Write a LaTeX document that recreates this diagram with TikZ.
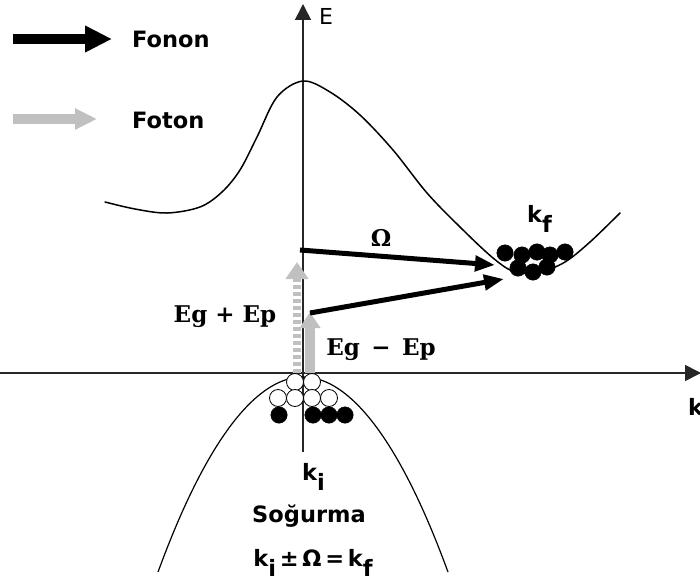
\documentclass[tikz,border=0pt]{standalone}
\usepackage[no-math]{fontspec}
\newfontfamily\dvs{DejaVu Sans}
\newfontfamily\dvserif{DejaVu Serif}
\usetikzlibrary{arrows.meta}
\definecolor{photon}{RGB}{192,192,192}
\begin{document}
\begin{tikzpicture}[x=1pt,y=-1pt,
  sanslbl/.style={font=\dvs\bfseries\fontsize{22.5}{26}\selectfont, inner sep=0pt},
  seriflbl/.style={font=\dvserif\bfseries\fontsize{23}{27}\selectfont, inner sep=0pt},
  omlbl/.style={font=\dvserif\bfseries\fontsize{23}{27}\selectfont, inner sep=0pt},
  band/.style={line width=1.5pt, line cap=round},
  axisline/.style={line width=1.6pt, draw=black!85, -{Triangle[length=16pt,width=16pt]}},
  phonon/.style={line width=5pt, -{Triangle[length=20pt,width=15pt]}},
  electron/.style={circle, fill=black, draw=black, minimum size=16.5pt, inner sep=0pt},
  hole/.style={circle, fill=white, draw=black, line width=0.8pt, minimum size=17pt, inner sep=0pt}]
\useasboundingbox (0,0) rectangle (700,583);

% legend
\coordinate (l1a) at (13,39);  \coordinate (l1b) at (112,39);
\coordinate (l2a) at (13,119); \coordinate (l2b) at (97,119);
\draw[line width=10pt, -{Triangle[length=27pt,width=25pt]}] (l1a) -- (l1b);
\draw[line width=10pt, photon, -{Triangle[length=22pt,width=20pt]}] (l2a) -- (l2b);
\node[sanslbl, anchor=base west] (fonon) at (132,48) {Fonon};
\node[sanslbl, anchor=base west] (foton) at (132,128) {Foton};

% axes
\coordinate (ybot) at (303,452); \coordinate (ytop) at (303,4);
\coordinate (xl) at (0,373); \coordinate (xr) at (701,373);
\draw[axisline] (ybot) -- (ytop);
\draw[axisline] (xl) -- (xr);
\node[font=\dvs\fontsize{22}{26}\selectfont, inner sep=0pt, anchor=base west] (E) at (319,25) {E};
\node[sanslbl, anchor=base west] (k) at (688,415) {k};

% conduction band
\draw[band] plot[smooth, tension=0.55] coordinates {(105,202) (135,209) (167,213) (200,207) (222,192) (240,170) (257,137) (277,97) (303,81) (330,92) (360,115) (393,150) (427,193) (460,227) (493,258) (515,272) (540,272) (565,262) (590,242) (620,213)};

% valence band
\draw[line width=1.2pt] (158,572) parabola bend (303,377) (448,572);

% photon arrows
\coordinate (p1a) at (297,373); \coordinate (p1b) at (297,262);
\coordinate (p2a) at (310,373); \coordinate (p2b) at (310,312);
\draw[photon, line width=8pt, dash pattern=on 4pt off 3pt, -{Triangle[length=17pt,width=22pt]}] (p1a) -- (p1b);
\draw[photon, line width=10pt, -{Triangle[length=16pt,width=20pt]}] (p2a) -- (p2b);

% phonon arrows
\coordinate (f1a) at (300,250); \coordinate (f1b) at (495,265);
\coordinate (f2a) at (310,313); \coordinate (f2b) at (504,279);
\draw[phonon] (f1a) -- (f1b);
\draw[phonon] (f2a) -- (f2b);

% labels
\node[omlbl, anchor=base] (om) at (381,246) {Ω};
\node[seriflbl, anchor=base] (egp) at (225,322) {Eg + Ep};
\node[seriflbl, anchor=base] (egm) at (381,355) {Eg\enspace−\enspace Ep};

% valence holes/electrons
\foreach \x/\y [count=\i] in {295/382, 312/382, 278/398, 295/398, 312/398, 329/398}
  \node[hole] (h\i) at (\x,\y) {};
\foreach \x/\y [count=\i] in {279/415, 313/415, 329/415, 345/415}
  \node[electron] (e\i) at (\x,\y) {};

% conduction electrons
\foreach \x/\y [count=\i] in {505/253, 522/255, 537/252, 550/255, 565/252, 518/268, 533/272, 547/267}
  \node[electron] (c\i) at (\x,\y) {};

\node[sanslbl, anchor=base west] (kf) at (527,222) {k\raisebox{-0.45em}{f}};
\node[sanslbl, anchor=base west] (ki) at (302,480) {k\raisebox{-0.45em}{i}};
\node[sanslbl, anchor=base] (sog) at (309,522) {Soğurma};
\node[sanslbl, anchor=base] (rel) at (313,566) {k\raisebox{-0.45em}{i}\,±\,Ω\,=\,k\raisebox{-0.45em}{f}};
\end{tikzpicture}
\end{document}
